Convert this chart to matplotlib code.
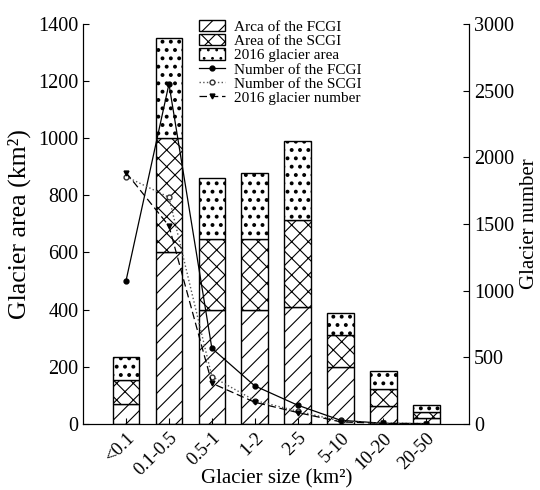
import matplotlib
matplotlib.use("Agg")
import matplotlib.pyplot as plt
import matplotlib.transforms as mtransforms
import numpy as np

plt.rcParams['font.family'] = ['Liberation Serif', 'DejaVu Serif']
plt.rcParams['hatch.linewidth'] = 0.8

categories = ['<0.1', '0.1-0.5', '0.5-1', '1-2', '2-5', '5-10', '10-20', '20-50']
# stacked segment values (km2)
area_fcgi = [68, 600, 397, 397, 410, 200, 64, 21]
area_scgi = [86, 400, 249, 251, 305, 111, 58, 21]
area_2016 = [79, 350, 215, 232, 274, 77, 62, 23]
# glacier numbers
num_fcgi = [1075, 2550, 567, 285, 140, 27, 4, 2]
num_scgi = [1855, 1700, 355, 175, 95, 20, 5, 2]
num_2016 = [1885, 1485, 305, 162, 85, 15, 3, 2]

x = np.arange(len(categories))
w = 0.62

fig = plt.figure(figsize=(5.4, 4.9), dpi=100)
ax = fig.add_axes([0.154, 0.135, 0.715, 0.816])
b1 = ax.bar(x, area_fcgi, w, color='white', edgecolor='black', hatch='//', lw=1.0,
            label='Arca of the FCGI')
bottom2 = np.array(area_fcgi)
b2 = ax.bar(x, area_scgi, w, bottom=bottom2, color='white', edgecolor='black', hatch='xx',
            lw=1.0, label='Area of the SCGI')
bottom3 = bottom2 + np.array(area_scgi)
with plt.rc_context({'hatch.linewidth': 1.6}):
    b3 = ax.bar(x, area_2016, w, bottom=bottom3, color='white', edgecolor='black',
                hatch='..', lw=1.0, label='2016 glacier area')

ax.set_xlim(-1, 8)
ax.set_ylim(0, 1400)
ax.set_yticks(np.arange(0, 1401, 200))
ax.set_xticks(x)
ax.set_xticklabels(categories, rotation=45, ha='right', rotation_mode='anchor')
offset = mtransforms.ScaledTranslation(8 / 100, 0, fig.dpi_scale_trans)
for lab in ax.get_xticklabels():
    lab.set_transform(lab.get_transform() + offset)
ax.tick_params(direction='in', labelsize=14.5, length=4)
ax.tick_params(axis='x', labelsize=13.5, pad=4)
ax.set_ylabel('Glacier area (km²)', fontsize=18.5, labelpad=5)
ax.set_xlabel('Glacier size (km²)', fontsize=15, labelpad=-7)
ax.spines['top'].set_visible(False)

ax2 = ax.twinx()
l1, = ax2.plot(x, num_fcgi, '-', color='black', lw=0.9, marker='o', ms=3.5,
               label='Number of the FCGI')
l2, = ax2.plot(x, num_scgi, ':', color='#555555', lw=1.0, marker='o', ms=3.5,
               mfc='white', mec='#333333', label='Number of the SCGI')
l3, = ax2.plot(x, num_2016, color='black', lw=0.9, linestyle=(0, (6, 3)), marker='v',
               ms=3.5, label='2016 glacier number')
ax2.set_ylim(0, 3000)
ax2.set_yticks(np.arange(0, 3001, 500))
ax2.tick_params(direction='in', labelsize=14.5, length=4)
ax2.set_ylabel('Glacier number', fontsize=15)
ax2.spines['top'].set_visible(False)

handles = [b1, b2, b3, l1, l2, l3]
labels = [h.get_label() for h in handles]
fig.legend(handles, labels, loc='upper left', bbox_to_anchor=(0.355, 0.975),
           frameon=False, fontsize=11, handlelength=1.7, handleheight=0.75,
           handletextpad=0.6, labelspacing=0.02, borderpad=0)

fig.savefig('out.png', dpi=100)
